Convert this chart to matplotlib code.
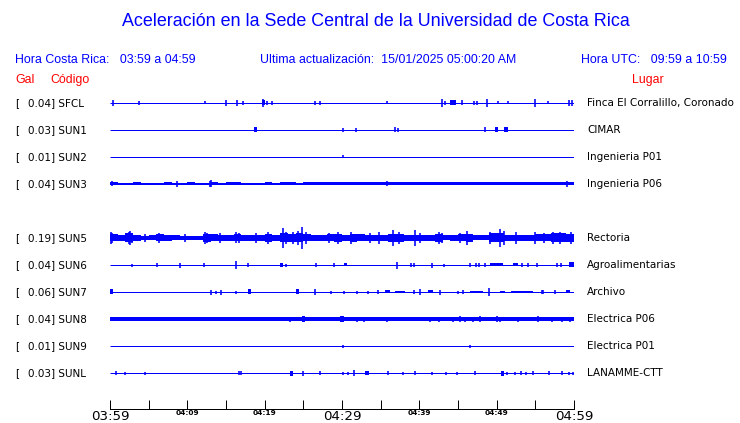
import numpy as np
import matplotlib
matplotlib.use("Agg")
import matplotlib.pyplot as plt
import matplotlib.transforms as mtransforms

# =====================================================
# DATA
# =====================================================
codes = ['SFCL', 'SUN1', 'SUN2', 'SUN3', 'SUN5', 'SUN6', 'SUN7', 'SUN8', 'SUN9', 'SUNL']
gal = [0.04, 0.03, 0.01, 0.04, 0.19, 0.04, 0.06, 0.04, 0.01, 0.03]
places = ['Finca El Corralillo, Coronado', 'CIMAR', 'Ingenieria P01', 'Ingenieria P06',
          'Rectoria', 'Agroalimentarias', 'Archivo', 'Electrica P06', 'Electrica P01',
          'LANAMME-CTT']

tick_minutes = list(range(0, 61, 5))
tick_labels = ['03:59', '', '04:09', '', '04:19', '', '04:29', '', '04:39', '', '04:49', '', '04:59']
big_labels = ['03:59', '04:29', '04:59']

# envelope (half amplitude, one value per minute) for the busy traces
sun3_env = [1.5, 0.8, 1.2, 1.5, 1.2, 0.8, 1.0, 1.5, 1.2, 1.0, 1.5, 1.2, 1.0, 1.5, 1.0,
            1.5, 1.5, 1.2, 1.0, 1.2, 1.5, 1.2, 1.5, 1.5, 1.2, 1.5, 1.5, 1.5, 1.5, 1.5,
            1.5, 1.5, 1.5, 1.5, 1.5, 1.5, 1.5, 1.5, 1.5, 1.5, 1.5, 1.5, 1.5, 1.5, 1.5,
            1.5, 1.5, 1.5, 1.5, 1.5, 1.5, 1.5, 1.5, 1.5, 1.5, 1.5, 1.5, 1.5, 1.5, 1.5]
sun5_env = [3.5, 3, 4.5, 3, 2, 2.5, 3.5, 3, 2.5, 2, 2, 2, 4, 3.5, 3,
            3, 3.5, 3, 3, 3, 4, 3, 4.5, 4, 4.5, 3.5, 3, 3, 3.5, 4,
            3, 4, 3.5, 3, 3, 3, 4, 4, 3, 3, 3, 3, 4, 2.5, 3,
            3.5, 4, 2.5, 2.5, 4.5, 4.5, 3, 3, 3, 3, 3.5, 3.5, 4.5, 4.5, 4]
sun8_env = [1.8] * 18 + [1.6] * 42

# isolated spikes: (minute, half amplitude)
sfcl_spikes = [(0.4, 3), (3.7, 2), (12.3, 1.5), (15.0, 3), (16.4, 3), (17.2, 2), (19.8, 4),
               (20.3, 2), (21.0, 2), (26.5, 2), (27.2, 2), (35.8, 1.5), (42.9, 4), (43.3, 2),
               (45.5, 2.5), (47.1, 2), (47.5, 2), (48.7, 4), (50.2, 1.5), (51.5, 1.5),
               (55.0, 4), (56.7, 1.5), (59.4, 3), (59.7, 3)]
sun1_spikes = [(30.1, 2), (31.8, 2), (36.9, 2.5), (37.3, 2), (48.5, 2.5)]
sun2_spikes = [(30.1, 1.5)]
sun3_spikes = [(0.3, 2.5), (8.6, 3), (12.9, 3), (13.1, 3.5), (35.8, 2.5), (59.1, 3)]
sun5_spikes = [(0.1, 6), (0.3, 5), (2.4, 6), (2.6, 7), (2.9, 5), (4.5, 4), (6.3, 5), (9.7, 4),
               (12.3, 6), (12.6, 5), (14.2, 5), (16.3, 5.5), (16.7, 5), (18.9, 5),
               (20.4, 6), (22.4, 10), (22.8, 6), (23.6, 6), (24.8, 11), (24.3, 7),
               (25.4, 6), (28.3, 5), (29.5, 6), (31.2, 6), (33.6, 5), (34.8, 6),
               (36.6, 8), (37.4, 6), (39.4, 8), (40.1, 5), (42.5, 6), (42.9, 5),
               (45.3, 5), (46.2, 7), (49.2, 6), (50.4, 9), (50.9, 7), (52.5, 6),
               (54.9, 6), (56.1, 5), (57.3, 6), (58.2, 6), (59.6, 6)]
sun6_spikes = [(2.8, 1.5), (6.1, 2), (9.1, 2.5), (12.2, 2), (16.3, 4), (17.8, 2), (22.7, 1.5),
               (26.6, 2), (29.0, 2), (37.1, 3.5), (38.9, 2), (39.3, 2), (41.7, 2.5),
               (43.2, 1.5), (46.5, 2), (47.3, 2), (47.7, 2), (48.5, 2), (53.3, 2),
               (54.0, 2), (55.2, 2), (57.8, 2), (58.3, 2)]
sun7_spikes = [(13.1, 2.5), (13.7, 1.5), (14.4, 2.5), (16.3, 1.5), (26.5, 3), (28.6, 1.5),
               (30.2, 1.5), (31.9, 1.5), (33.4, 1.5), (34.7, 2), (39.3, 2), (40.1, 3),
               (42.7, 2.5), (45.0, 1.5), (45.7, 2), (49.0, 4), (55.8, 2), (56.0, 2), (57.5, 2)]
sun8_spikes = [(6.2, 2), (10.0, 2), (17.7, 2), (23.3, 2.5), (31.9, 2.5), (32.8, 2.5),
               (35.8, 2.5), (41.4, 2.5), (42.6, 2.5), (44.4, 2.5), (45.3, 3), (45.9, 2.5),
               (46.9, 2.5), (47.8, 3), (50.0, 3), (50.4, 2.5), (52.8, 2.5), (55.4, 3),
               (57.1, 2.5), (58.4, 2.5), (59.5, 2.5)]
sun9_spikes = [(30.1, 1.5), (46.5, 1.5)]
sunl_spikes = [(0.8, 2), (1.9, 1.5), (4.5, 1.5), (16.7, 2), (16.9, 2), (24.9, 2.5), (27.2, 2),
               (30.1, 1.5), (30.8, 1.5), (31.5, 3), (36.0, 2), (37.9, 1.5), (39.4, 2),
               (41.7, 1.5), (43.4, 1.5), (44.9, 1.5), (47.2, 2), (51.3, 1.5), (52.4, 1.5),
               (53.2, 2), (53.8, 1.5), (54.7, 2), (56.8, 2), (58.5, 2), (59.3, 1.5), (59.9, 1.5)]

# short bursts: (start minute, end minute, half amplitude)
sfcl_bursts = [(19.6, 20.0, 2.5), (44.0, 44.8, 2.5)]
sun1_bursts = [(18.6, 19.0, 2.5), (49.8, 50.2, 2.5), (51.0, 51.5, 2.5)]
sun6_bursts = [(22.0, 22.4, 2), (30.2, 30.7, 1.5), (49.1, 50.8, 1.5), (52.1, 52.8, 1.5),
               (59.3, 60.0, 2.5)]
sun7_bursts = [(0.0, 0.4, 2.5), (17.8, 18.2, 2.5), (24.1, 24.5, 2.5), (35.6, 36.2, 1.5),
               (36.9, 38.1, 1.2), (41.1, 41.8, 1.5), (46.6, 48.2, 1.2), (50.4, 51.1, 1.2),
               (51.9, 54.7, 1.2), (59.0, 59.5, 1.5)]
sun8_bursts = [(24.8, 25.2, 3), (29.8, 30.2, 3)]
sunl_bursts = [(23.3, 23.7, 2.5), (33.0, 33.5, 2), (50.5, 50.9, 2.5)]

envelopes = {'SUN3': sun3_env, 'SUN5': sun5_env, 'SUN8': sun8_env}
spikes = {'SFCL': sfcl_spikes, 'SUN1': sun1_spikes, 'SUN2': sun2_spikes, 'SUN3': sun3_spikes,
          'SUN5': sun5_spikes, 'SUN6': sun6_spikes, 'SUN7': sun7_spikes, 'SUN8': sun8_spikes,
          'SUN9': sun9_spikes, 'SUNL': sunl_spikes}
bursts = {'SFCL': sfcl_bursts, 'SUN1': sun1_bursts, 'SUN6': sun6_bursts, 'SUN7': sun7_bursts,
          'SUN8': sun8_bursts, 'SUNL': sunl_bursts}

# =====================================================
# FIGURE
# =====================================================
W, H = 740, 423
BLUE = '#0000ff'
RED = '#ff0000'
fig = plt.figure(figsize=(W / 100, H / 100), dpi=100)
fig.patch.set_facecolor('white')

# trace area: x 110..574 px, y 90..409 px
ax = fig.add_axes([110 / W, (H - 409) / H, (574 - 110) / W, (409 - 90) / H])
ax.set_xlim(0, 60)
ax.set_ylim(306, -13)
ax.set_facecolor('none')

px = 0.72  # one pixel in points
row_gap = 27
rows = [0, 1, 2, 3, 5, 6, 7, 8, 9, 10]

for code, r in zip(codes, rows):
    y0 = r * row_gap
    if code in envelopes:
        env = np.array(envelopes[code] + [envelopes[code][-1]])
        xs = np.arange(len(env))
        ax.fill_between(xs, y0 - env, y0 + env, step='post', color=BLUE, lw=0,
                        antialiased=False)
    ax.hlines(y0, 0, 60, color=BLUE, lw=px)
    for t0, t1, a in bursts.get(code, []):
        ax.fill_between([t0, t1], y0 - a, y0 + a, color=BLUE, lw=0, antialiased=False)
    sp = spikes.get(code, [])
    if sp:
        t = [s[0] for s in sp]
        a = np.array([s[1] for s in sp])
        ax.vlines(t, y0 - a, y0 + a, color=BLUE, lw=1.6 * px)

# axes look: only the bottom spine as time axis
for side in ['top', 'left', 'right']:
    ax.spines[side].set_visible(False)
ax.spines['bottom'].set_linewidth(px)
ax.set_yticks([])
ax.set_xticks(tick_minutes)
ax.set_xticklabels(tick_labels)
ax.tick_params(axis='x', direction='in', length=9 * px, width=px, pad=0.5)
for lab in ax.get_xticklabels():
    if lab.get_text() in big_labels:
        lab.set_fontsize(9.6)
    else:
        lab.set_fontsize(5.3)
        lab.set_fontweight('bold')

# =====================================================
# TEXT
# =====================================================
sans = ['Liberation Sans', 'DejaVu Sans']
fs = 8.9
fig.text(376 / W, 1 - 22 / H, 'Aceleración en la Sede Central de la Universidad de Costa Rica',
         ha='center', va='center', color=BLUE, fontsize=12.9, family=sans)
fig.text(15 / W, 1 - 60 / H, 'Hora Costa Rica:   03:59 a 04:59', ha='left', va='center',
         color=BLUE, fontsize=fs, family=sans)
fig.text(388 / W, 1 - 60 / H, 'Ultima actualización:  15/01/2025 05:00:20 AM', ha='center',
         va='center', color=BLUE, fontsize=fs, family=sans)
fig.text(727 / W, 1 - 60 / H, 'Hora UTC:   09:59 a 10:59', ha='right', va='center',
         color=BLUE, fontsize=fs, family=sans)
fig.text(15 / W, 1 - 80 / H, 'Gal', ha='left', va='center', color=RED, fontsize=fs, family=sans)
fig.text(50 / W, 1 - 80 / H, 'Código', ha='left', va='center', color=RED, fontsize=fs,
         family=sans)
fig.text(664 / W, 1 - 80 / H, 'Lugar', ha='right', va='center', color=RED, fontsize=fs,
         family=sans)

trans = mtransforms.blended_transform_factory(fig.transFigure, ax.transData)
for code, g, place, r in zip(codes, gal, places, rows):
    y0 = r * row_gap
    ax.text(15 / W, y0, '[', transform=trans, ha='left', va='center', fontsize=7.5,
            color='black', clip_on=False)
    ax.text(28 / W, y0, f'{g:.2f}] {code}', transform=trans, ha='left', va='center',
            fontsize=7.5, color='black', clip_on=False)
    ax.text(587 / W, y0, place, transform=trans, ha='left', va='center', fontsize=7.5,
            color='black', clip_on=False)

fig.savefig('out.png', dpi=100, facecolor='white')
